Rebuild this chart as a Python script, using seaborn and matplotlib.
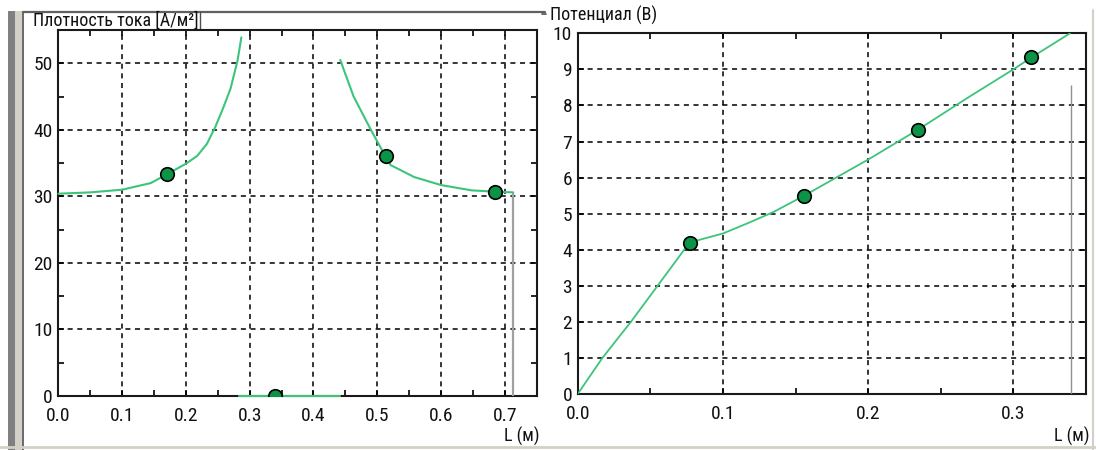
import numpy as np
import pandas as pd
import matplotlib
matplotlib.use("Agg")
import matplotlib.pyplot as plt
from matplotlib.ticker import MultipleLocator
from matplotlib import font_manager
import seaborn as sns

# ---- data: current density (left) ----
j_seg1_x = [0.0, 0.05, 0.10, 0.145, 0.17, 0.20, 0.218, 0.233, 0.246, 0.259, 0.270, 0.281, 0.287]
j_seg1_y = [30.4, 30.6, 31.0, 32.0, 33.3, 34.9, 36.1, 37.9, 40.4, 43.4, 46.2, 50.4, 53.9]
j_seg2_x = [0.283, 0.442]
j_seg2_y = [0.0, 0.0]
j_seg3_x = [0.442, 0.463, 0.490, 0.513, 0.521, 0.558, 0.600, 0.648, 0.686, 0.713]
j_seg3_y = [50.5, 45.0, 40.0, 36.0, 34.7, 32.9, 31.7, 30.9, 30.7, 30.6]
j_pts_x = [0.17, 0.34, 0.513, 0.684]
j_pts_y = [33.3, 0.0, 36.0, 30.7]
j_marker_x = 0.713
j_marker_top = 30.6

# ---- data: potential (right) ----
u_x = [0.0, 0.017, 0.0366, 0.055, 0.077, 0.10, 0.118, 0.135, 0.156, 0.20, 0.234, 0.27, 0.30, 0.312, 0.339]
u_y = [0.0, 1.0, 2.0, 3.0, 4.2, 4.45, 4.75, 5.05, 5.5, 6.5, 7.32, 8.25, 9.0, 9.32, 10.0]
u_pts_x = [0.077, 0.156, 0.234, 0.312]
u_pts_y = [4.2, 5.5, 7.32, 9.33]
u_marker_x = 0.340
u_marker_top = 8.56

left_xticks = [0.0, 0.1, 0.2, 0.3, 0.4, 0.5, 0.6, 0.7]
left_yticks = [0, 10, 20, 30, 40, 50]
right_xticks = [0.0, 0.1, 0.2, 0.3]
right_yticks = list(range(0, 11))

sns.set_theme(style="white")
installed = {f.name for f in font_manager.fontManager.ttflist}
narrow = [n for n in ["Liberation Sans Narrow", "Roboto Condensed", "Open Sans Condensed",
                      "DejaVu Sans Condensed"] if n in installed]
plt.rcParams['font.family'] = narrow + ['DejaVu Sans']
FS = 14 if narrow else 11.5
FS_T = 13 if narrow else 11.5

LINE = "#3cc47c"
MFACE = "#0b9445"
W, H = 1096, 450
fig = plt.figure(figsize=(W / 100, H / 100), dpi=100)
fig.patch.set_facecolor("white")


def px_axes(x0, y0, x1, y1):
    return fig.add_axes([x0 / W, 1 - y1 / H, (x1 - x0) / W, (y1 - y0) / H])


grid_style = dict(color="black", linewidth=1.1, linestyle=(0, (3.3, 3.0)))


def style_axes(ax, xlim, ylim, xticks, yticks, xminor, yminor):
    ax.set_xlim(*xlim)
    ax.set_ylim(*ylim)
    ax.set_xticks(xticks)
    ax.set_xticklabels([f"{v:.1f}" for v in xticks])
    ax.set_yticks(yticks)
    ax.set_yticklabels([f"{v:d}" for v in yticks])
    if xminor:
        ax.xaxis.set_minor_locator(MultipleLocator(xminor))
    if yminor:
        ax.yaxis.set_minor_locator(MultipleLocator(yminor))
    ax.tick_params(which="both", direction="in", top=True, right=True,
                   bottom=True, left=True, color="black", width=1.2)
    ax.tick_params(which="major", length=4, labelsize=FS, labelcolor="#111111")
    ax.tick_params(axis="x", which="major", pad=8)
    ax.tick_params(axis="y", which="major", pad=4)
    ax.tick_params(which="minor", length=4)
    ax.grid(True, which="major", **grid_style)
    for s in ax.spines.values():
        s.set_color("#1a1a1a")
        s.set_linewidth(1.5)
    ax.set_xlabel("")
    ax.set_ylabel("")
    ax.set_facecolor("white")


# Left axes
ax1 = px_axes(58.3, 30, 536.7, 396)
for xs, ys in [(j_seg1_x, j_seg1_y), (j_seg2_x, j_seg2_y), (j_seg3_x, j_seg3_y)]:
    sns.lineplot(x=xs, y=ys, ax=ax1, color=LINE, linewidth=1.5, sort=False,
                 estimator=None, zorder=4)
for ln in ax1.get_lines():
    ln.set_clip_on(False)
ax1.vlines(j_marker_x, 0, j_marker_top, color="#a0a0a0", linewidth=1.6, zorder=3)
sns.scatterplot(x=j_pts_x, y=j_pts_y, ax=ax1, color=MFACE, edgecolor="black",
                linewidth=1.2, s=95, zorder=5)
for c in ax1.collections:
    c.set_clip_on(True)
style_axes(ax1, (0, 0.75), (0, 55), left_xticks, left_yticks, 0.05, 5)

# Right axes
ax2 = px_axes(577.7, 33.3, 1086, 394)
sns.lineplot(x=u_x, y=u_y, ax=ax2, color=LINE, linewidth=1.3, sort=False,
             estimator=None, zorder=4)
ax2.vlines(u_marker_x, 0, u_marker_top, color="#909090", linewidth=1.0, zorder=3)
sns.scatterplot(x=u_pts_x, y=u_pts_y, ax=ax2, color=MFACE, edgecolor="black",
                linewidth=1.2, s=95, zorder=5)
style_axes(ax2, (0, 0.35), (0, 10), right_xticks, right_yticks, 0.05, None)

# window decorations
deco = fig.add_axes([0, 0, 1, 1], zorder=-5)
deco.set_xlim(0, W)
deco.set_ylim(H, 0)
deco.axis("off")
deco.fill_between([8, 15], 11, H, color="#808080", linewidth=0)
deco.fill_between([15, 22], 11, H, color="#d4d0c8", linewidth=0)
deco.plot([23, 23], [12, H], color="#505050", linewidth=1.2)
deco.plot([23, 545], [12, 12], color="#606060", linewidth=1.6)
deco.plot([0, W], [447, 447], color="#d4d0c8", linewidth=2)
deco.plot([1093, 1093], [10, H], color="#d4d0c8", linewidth=1.5)
deco.plot([542, 546], [14, 14], color="#505050", linewidth=1.2)
deco.plot([200, 200], [12, 30], color="#505050", linewidth=1.0)

fig.text(33 / W, 1 - 21 / H, "Плотность тока [A/м²]", fontsize=FS_T,
         va="center", ha="left", color="#111111")
fig.text(550 / W, 1 - 15 / H, "Потенциал (B)", fontsize=FS_T,
         va="center", ha="left", color="#111111")
fig.text(539 / W, 1 - 436 / H, "L (м)", fontsize=FS_T, va="center", ha="right",
         color="#111111")
fig.text(1089 / W, 1 - 436 / H, "L (м)", fontsize=FS_T, va="center", ha="right",
         color="#111111")

fig.savefig("out.png", dpi=100)
